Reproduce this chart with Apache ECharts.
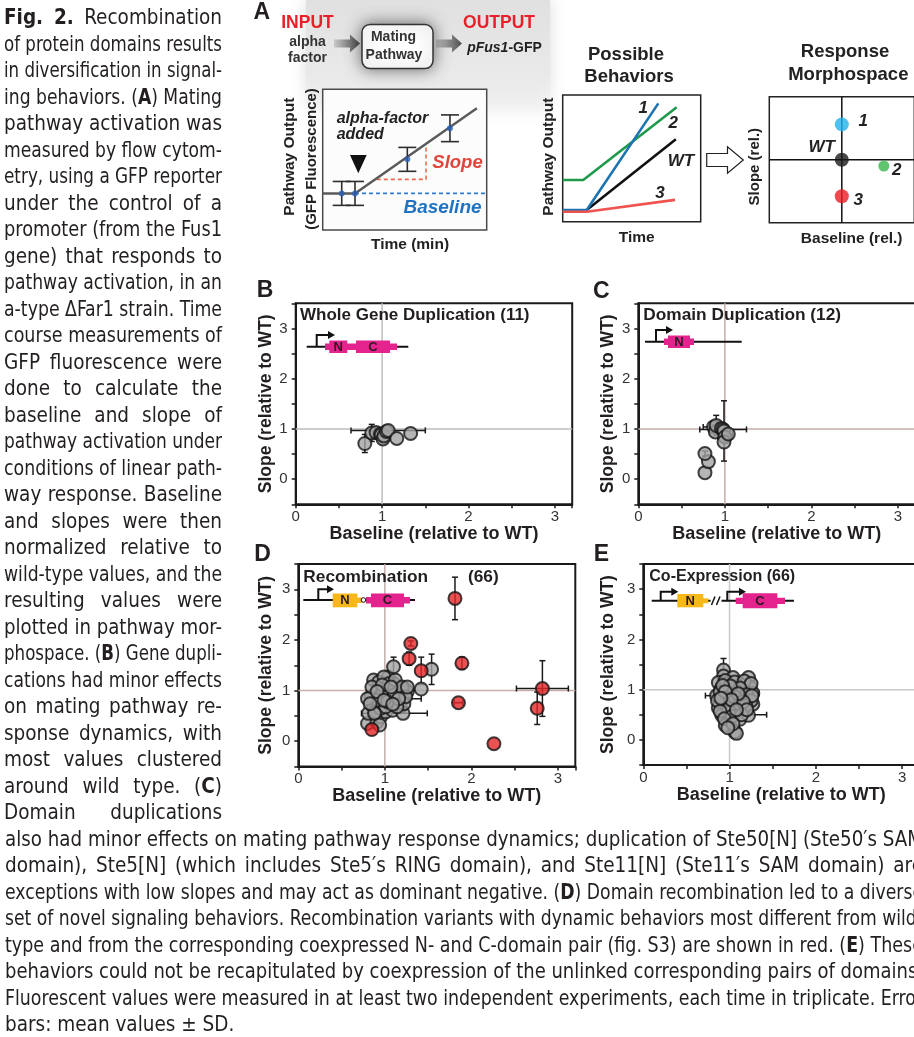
<!DOCTYPE html>
<html>
<head>
<meta charset="utf-8">
<title>Fig. 2 - Recombination of protein domains</title>
<script src="https://cdn.jsdelivr.net/npm/echarts@6.0.0/dist/echarts.min.js"></script>
<style>
html, body { margin: 0; padding: 0; background: #fff; overflow: hidden; }
#chart { position: absolute; left: 0; top: 0; width: 914px; height: 1037px; }
#caption { position: absolute; left: 0; top: 0; width: 914px; height: 1037px; pointer-events: none; }
.ln { position: absolute; white-space: nowrap; font-family: "Liberation Sans Narrow", "DejaVu Sans Condensed", "Liberation Sans", sans-serif;
      font-size: 20.5px; line-height: 24px; color: #231f20; transform-origin: 0 50%; }
.ln b { font-weight: bold; }
</style>
</head>
<body>
<div id="chart"></div>
<div id="caption"></div>
<script>
// caption text, line by line as in the page
var sideCaption = [
	'<b>Fig. 2.</b> Recombination',
	'of protein domains results',
	'in diversification in signal-',
	'ing behaviors. (<b>A</b>) Mating',
	'pathway activation was',
	'measured by flow cytom-',
	'etry, using a GFP reporter',
	'under the control of a',
	'promoter (from the Fus1',
	'gene) that responds to',
	'pathway activation, in an',
	'a-type \u0394Far1 strain. Time',
	'course measurements of',
	'GFP fluorescence were',
	'done to calculate the',
	'baseline and slope of',
	'pathway activation under',
	'conditions of linear path-',
	'way response. Baseline',
	'and slopes were then',
	'normalized relative to',
	'wild-type values, and the',
	'resulting values were',
	'plotted in pathway mor-',
	'phospace. (<b>B</b>) Gene dupli-',
	'cations had minor effects',
	'on mating pathway re-',
	'sponse dynamics, with',
	'most values clustered',
	'around wild type. (<b>C</b>)',
	'Domain duplications'
];
var bottomCaption = [
	'also had minor effects on mating pathway response dynamics; duplication of Ste50[N] (Ste50\u2032s SAM',
	'domain), Ste5[N] (which includes Ste5\u2032s RING domain), and Ste11[N] (Ste11\u2032s SAM domain) are',
	'exceptions with low slopes and may act as dominant negative. (<b>D</b>) Domain recombination led to a diverse',
	'set of novel signaling behaviors. Recombination variants with dynamic behaviors most different from wild-',
	'type and from the corresponding coexpressed N- and C-domain pair (fig. S3) are shown in red. (<b>E</b>) These',
	'behaviors could not be recapitulated by coexpression of the unlinked corresponding pairs of domains.',
	'Fluorescent values were measured in at least two independent experiments, each time in triplicate. Error',
	'bars: mean values \u00b1 SD.'
];

// panel A, schematic time course (arbitrary units 0-10)
var tcLine = [[0, 2.6], [1.97, 2.6], [9.4, 8.65]];
var tcBaseline = [[1.97, 2.6], [9.9, 2.6]];
var tcSlope = [[3.3, 3.6], [6.3, 3.6], [6.3, 5.9]];
var tcPoints = [[1.16, 2.6, 0.85], [1.97, 2.6, 0.85], [5.16, 5.02, 0.85], [7.76, 7.23, 0.95]]; // x, y, sd

// panel A, possible behaviors (arbitrary units 0-10)
var beh1 = [[0, 0.92], [1.74, 0.92], [6.93, 9.34]];
var beh2 = [[0, 3.29], [1.49, 3.29], [8.26, 9.03]];
var behWT = [[1.74, 0.92], [8.2, 6.5]];
var beh3 = [[0, 0.79], [1.74, 0.79], [8.14, 1.72]];

// panel A, response morphospace
var morphNames = ['1', 'WT', '2', '3'];
var morphBaseline = [5, 5, 7.9, 5];
var morphSlope = [7.8, 5, 4.5, 2.1];
var morphCenter = 5;

// B-E: [baseline, slope, baseline sd, slope sd], relative to WT
var dupPoints = [
	[0.80, 0.71, 0, 0.18], [0.88, 0.92, 0, 0.17], [0.93, 0.93, 0, 0], [0.98, 0.90, 0, 0],
	[0.99, 0.88, 0, 0], [1.01, 0.80, 0, 0], [1.02, 0.86, 0, 0], [1.05, 0.95, 0, 0],
	[1.07, 0.97, 0.43, 0], [1.17, 0.81, 0, 0], [1.33, 0.91, 0, 0]
];
var domDupPoints = [
	[0.77, 0.13, 0, 0], [0.81, 0.35, 0, 0], [0.77, 0.51, 0, 0.05], [0.87, 1.04, 0.12, 0.05],
	[0.89, 0.94, 0, 0], [0.90, 1.07, 0, 0.2], [0.96, 1.01, 0, 0], [0.98, 0.99, 0.27, 0],
	[0.99, 0.96, 0, 0.6], [1.00, 0.84, 0.08, 0], [0.99, 0.74, 0, 0], [1.04, 0.90, 0.05, 0.08]
];
var recombGray = [
	[0.80, 0.35, 0, 0], [0.91, 0.38, 0, 0], [0.95, 0.48, 0, 0], [0.81, 0.55, 0.08, 0],
	[0.87, 0.68, 0, 0], [0.95, 0.74, 0, 0], [0.84, 0.88, 0, 0], [0.93, 0.86, 0, 0],
	[0.99, 0.88, 0, 0], [1.07, 0.74, 0, 0], [1.14, 0.81, 0, 0], [1.20, 0.88, 0, 0],
	[1.05, 0.94, 0, 0], [0.97, 1.04, 0, 0], [0.87, 1.21, 0, 0], [1.04, 1.27, 0, 0.1],
	[1.11, 1.13, 0, 0], [1.22, 1.04, 0, 0.1], [1.03, 1.11, 0, 0], [0.93, 1.17, 0, 0],
	[1.16, 0.98, 0, 0], [1.07, 0.88, 0, 0], [0.85, 1.07, 0, 0], [0.97, 0.94, 0, 0],
	[1.01, 0.58, 0, 0], [1.09, 0.61, 0, 0], [1.18, 0.68, 0, 0.12], [1.21, 0.55, 0.28, 0],
	[0.89, 0.58, 0, 0], [0.95, 0.65, 0, 0], [1.11, 0.94, 0, 0], [1.26, 0.98, 0, 0],
	[1.22, 0.74, 0, 0], [1.14, 0.68, 0, 0], [0.91, 0.81, 0, 0], [1.01, 0.68, 0, 0],
	[0.80, 0.84, 0, 0], [0.99, 1.27, 0, 0], [1.05, 1.14, 0, 0], [1.12, 1.21, 0, 0],
	[1.20, 1.07, 0, 0], [1.24, 0.88, 0, 0], [0.88, 0.55, 0, 0], [0.94, 0.32, 0, 0],
	[1.03, 0.78, 0, 0], [1.10, 1.47, 0, 0.19], [1.42, 1.03, 0, 0], [1.54, 1.42, 0, 0.3],
	[0.97, 1.11, 0, 0], [1.07, 1.07, 0, 0], [1.16, 0.84, 0.26, 0], [0.83, 0.74, 0, 0],
	[0.91, 0.98, 0, 0], [1.26, 1.07, 0, 0], [0.99, 0.81, 0, 0], [1.09, 0.73, 0, 0]
];
var recombRed = [
	[0.85, 0.23, 0, 0], [1.28, 1.63, 0, 0.13], [1.30, 1.93, 0, 0.05], [1.42, 1.39, 0, 0.27],
	[1.81, 2.82, 0, 0.42], [1.85, 0.76, 0.05, 0], [1.89, 1.54, 0, 0.12], [2.26, -0.05, 0, 0],
	[2.76, 0.65, 0, 0.32], [2.82, 1.04, 0.3, 0.55]
];
var coexpPoints = [
	[0.93, 1.39, 0, 0.23], [0.93, 1.27, 0, 0], [1.04, 1.24, 0, 0], [1.22, 1.24, 0, 0],
	[0.87, 1.14, 0, 0], [0.97, 1.11, 0, 0], [1.13, 1.10, 0, 0], [1.24, 1.05, 0, 0],
	[0.90, 1.01, 0, 0], [0.99, 1.00, 0, 0], [1.08, 0.98, 0, 0], [1.18, 0.97, 0, 0],
	[1.27, 0.93, 0.07, 0], [0.85, 0.88, 0.13, 0], [1.03, 0.92, 0, 0], [0.93, 0.85, 0, 0],
	[1.14, 0.85, 0, 0], [1.22, 0.82, 0, 0], [0.89, 0.72, 0, 0], [1.01, 0.73, 0, 0],
	[1.10, 0.80, 0, 0], [0.93, 0.65, 0.1, 0], [1.04, 0.65, 0, 0], [1.15, 0.62, 0, 0],
	[1.27, 0.71, 0, 0], [0.87, 0.64, 0, 0], [0.97, 0.55, 0, 0], [1.08, 0.52, 0, 0],
	[1.16, 0.59, 0, 0], [0.91, 0.49, 0, 0], [1.00, 0.39, 0, 0], [1.12, 0.41, 0, 0],
	[1.22, 0.49, 0, 0], [0.95, 0.29, 0, 0], [1.06, 0.16, 0, 0], [1.08, 0.13, 0, 0],
	[0.95, 1.18, 0, 0], [1.06, 1.15, 0, 0], [1.17, 1.17, 0, 0], [1.25, 1.12, 0, 0],
	[0.89, 0.95, 0, 0], [1.12, 1.03, 0, 0], [1.20, 0.90, 0, 0], [0.97, 0.80, 0, 0],
	[1.06, 0.86, 0, 0], [1.25, 0.78, 0, 0], [0.86, 0.78, 0, 0], [0.99, 0.62, 0, 0],
	[1.12, 0.70, 0, 0], [1.19, 0.68, 0, 0], [0.89, 0.57, 0, 0], [1.03, 0.47, 0, 0],
	[1.14, 0.50, 0.29, 0], [0.94, 0.42, 0, 0], [1.04, 0.32, 0, 0], [0.98, 0.24, 0, 0],
	[1.26, 0.88, 0, 0], [1.01, 1.07, 0, 0], [0.92, 1.08, 0, 0], [1.16, 0.76, 0, 0],
	[0.95, 0.96, 0, 0], [1.10, 0.92, 0, 0], [1.02, 0.80, 0, 0], [1.20, 0.60, 0, 0],
	[0.90, 0.83, 0, 0], [1.08, 0.60, 0, 0]
];
var tickLabels = [0, 1, 2, 3];
var wtLevel = 1;

var F = '"Liberation Sans", Arial, Helvetica, sans-serif';
var PINK = '#e4238e', YELLOW = '#f8b81a', GRAYDOT = '#a3a3a3', REDDOT = '#e42528';

// caption as html text, each line justified to its column
function fitLine(el, width, justify) {
	var w = el.getBoundingClientRect().width;
	var spaces = (el.textContent.match(/ /g) || []).length;
	if (w > width) {
		el.style.transform = 'scaleX(' + (width / w) + ')';
	} else if (justify && spaces) {
		el.style.wordSpacing = ((width - w) / spaces) + 'px';
	}
}
function placeCaption() {
	var box = document.getElementById('caption');
	var lines = [];
	sideCaption.forEach(function (t) { lines.push({ t: t, x: 4, w: 218, j: true }); });
	bottomCaption.forEach(function (t, i) { lines.push({ t: t, x: 5, w: 918, j: i < bottomCaption.length - 1 }); });
	lines.forEach(function (l, i) {
		var d = document.createElement('div');
		d.className = 'ln';
		d.innerHTML = l.t;
		d.style.left = l.x + 'px';
		d.style.top = (17 + i * 26.5 - 12) + 'px';
		box.appendChild(d);
		fitLine(d, l.w, l.j);
	});
}

function T(x, y, text, size, o) {
	o = o || {};
	return {
		type: 'text', x: x, y: y, rotation: o.rot || 0, z: o.z || 60, silent: true,
		style: {
			text: text, fill: o.color || '#231f20', fontSize: size, fontWeight: o.weight || 'bold',
			fontStyle: o.italic ? 'italic' : 'normal', fontFamily: F,
			align: o.align || 'center', verticalAlign: 'middle', rich: o.rich
		}
	};
}
function promoter(x, y, top, end) {
	return [
		{ type: 'polyline', z: 60, shape: { points: [[x, y], [x, top], [end - 4, top]] }, style: { stroke: '#111', lineWidth: 2, fill: null } },
		{ type: 'polygon', z: 60, shape: { points: [[end - 7, top - 4], [end, top], [end - 7, top + 4]] }, style: { fill: '#111' } }
	];
}
function bar(x1, x2, y1, y2, color) {
	return { type: 'rect', z: 61, shape: { x: x1, y: y1, width: x2 - x1, height: y2 - y1 }, style: { fill: color } };
}
function hline(x1, x2, y) {
	return { type: 'line', z: 59, shape: { x1: x1, y1: y, x2: x2, y2: y }, style: { stroke: '#111', lineWidth: 2 } };
}
function domainLabel(x, y, text) {
	return T(x, y, text, 13, { z: 66, color: '#2b1a22' });
}
function flowArrow(x0, x1, y) {
	return {
		type: 'polygon', z: 55,
		shape: { points: [[x0, y - 4], [x1 - 10, y - 4], [x1 - 10, y - 9], [x1, y], [x1 - 10, y + 9], [x1 - 10, y + 4], [x0, y + 4]] },
		style: { fill: new echarts.graphic.LinearGradient(0, 0, 1, 0, [{ offset: 0, color: '#c9c9c9' }, { offset: 1, color: '#4d4d4d' }]) }
	};
}

// custom renderer for error bars: value = [x, y, xsd, ysd]
function errorBars(cap, color, width) {
	return function (params, api) {
		var x = api.value(0), y = api.value(1), ex = api.value(2), ey = api.value(3);
		var st = { stroke: color, lineWidth: width };
		var kids = [];
		if (ex > 0) {
			var a = api.coord([x - ex, y]), b = api.coord([x + ex, y]);
			kids.push({ type: 'line', shape: { x1: a[0], y1: a[1], x2: b[0], y2: b[1] }, style: st });
			kids.push({ type: 'line', shape: { x1: a[0], y1: a[1] - cap, x2: a[0], y2: a[1] + cap }, style: st });
			kids.push({ type: 'line', shape: { x1: b[0], y1: b[1] - cap, x2: b[0], y2: b[1] + cap }, style: st });
		}
		if (ey > 0) {
			var c = api.coord([x, y - ey]), d = api.coord([x, y + ey]);
			kids.push({ type: 'line', shape: { x1: c[0], y1: c[1], x2: d[0], y2: d[1] }, style: st });
			kids.push({ type: 'line', shape: { x1: c[0] - cap, y1: c[1], x2: c[0] + cap, y2: c[1] }, style: st });
			kids.push({ type: 'line', shape: { x1: d[0] - cap, y1: d[1], x2: d[0] + cap, y2: d[1] }, style: st });
		}
		return { type: 'group', children: kids };
	};
}

var chart = echarts.init(document.getElementById('chart'));

var grids = [
	{ left: 322.7, top: 89.3, width: 164, height: 140.7, show: true, borderColor: '#4a4a4a', borderWidth: 1.5, backgroundColor: '#fcfcfc' },
	{ left: 562.7, top: 95, width: 138, height: 126.7, show: true, borderColor: '#222', borderWidth: 1.5, backgroundColor: '#fff' },
	{ left: 769.3, top: 96.7, width: 145, height: 126, show: true, borderColor: '#222', borderWidth: 1.5, backgroundColor: '#fff' },
	{ left: 295.7, top: 303.3, width: 276.5, height: 201 },
	{ left: 638.3, top: 303.3, width: 277, height: 201 },
	{ left: 298.3, top: 564, width: 277, height: 202.5 },
	{ left: 643.3, top: 564, width: 276, height: 201 }
];
for (var g = 3; g < 7; g++) {
	grids[g].show = true; grids[g].borderColor = '#1a1a1a'; grids[g].borderWidth = 2;
}
grids.forEach(function (gr) { gr.outerBoundsMode = 'none'; gr.containLabel = false; });

var xAxes = [], yAxes = [];
for (var s = 0; s < 3; s++) {
	xAxes.push({ gridIndex: s, type: 'value', min: 0, max: 10, show: false, axisLine: { onZero: false } });
	yAxes.push({ gridIndex: s, type: 'value', min: 0, max: 10, show: false, axisLine: { onZero: false } });
}
function intLabel(v) {
	return tickLabels.indexOf(Math.round(v * 100) / 100) >= 0 ? String(Math.round(v)) : '';
}
var nameGaps = [[19, 20.5], [19, 21.5], [19.5, 23], [20.5, 26.5]];
nameGaps.forEach(function (ng, k) {
	var common = {
		gridIndex: k + 3, type: 'value', interval: 0.5, nameLocation: 'middle',
		axisLine: { onZero: false, lineStyle: { color: '#1a1a1a', width: 2 } },
		axisTick: { length: 4, lineStyle: { color: '#1a1a1a', width: 1.5 } },
		splitLine: { show: false },
		nameTextStyle: { fontSize: 18, fontWeight: 'bold', color: '#231f20', fontFamily: F }
	};
	xAxes.push(Object.assign({}, common, {
		min: 0, max: 3.2, name: 'Baseline (relative to WT)', nameGap: ng[0],
		axisLabel: { formatter: intLabel, fontSize: 15, color: '#333', margin: 5, fontFamily: F }
	}));
	yAxes.push(Object.assign({}, common, {
		min: -0.5, max: 3.5, name: 'Slope (relative to WT)', nameGap: ng[1],
		nameTextStyle: { fontSize: 17.5, fontWeight: 'bold', color: '#231f20', fontFamily: F },
		axisLabel: { formatter: intLabel, fontSize: 15, color: '#333', margin: 8, fontFamily: F }
	}));
});

var series = [];
function lineSeries(gi, data, color, width, dash, z) {
	return {
		type: 'line', xAxisIndex: gi, yAxisIndex: gi, data: data, symbol: 'none', silent: true, z: z || 2,
		lineStyle: { color: color, width: width, type: dash || 'solid' }
	};
}
// A: time course schematic
series.push(lineSeries(0, tcBaseline, '#2f7fd6', 1.6, [4, 3]));
series.push(lineSeries(0, tcSlope, '#ec6a4c', 1.6, [4, 3]));
series.push(lineSeries(0, tcLine, '#5a5a5a', 2.5, null, 3));
series.push({
	type: 'custom', xAxisIndex: 0, yAxisIndex: 0, z: 4, silent: true, encode: { x: 0, y: 1 },
	renderItem: errorBars(9, '#2d2d2d', 1.6),
	data: tcPoints.map(function (p) { return [p[0], p[1], 0, p[2]]; })
});
series.push({
	type: 'scatter', xAxisIndex: 0, yAxisIndex: 0, z: 5, symbolSize: 6, silent: true,
	itemStyle: { color: '#2b5fb8' }, data: tcPoints.map(function (p) { return [p[0], p[1]]; })
});
// A: possible behaviors
series.push(lineSeries(1, beh2, '#1f9a4c', 2.6));
series.push(lineSeries(1, behWT, '#111', 2.6));
series.push(lineSeries(1, beh1, '#1c75b0', 2.6, null, 3));
series.push(lineSeries(1, beh3, '#ef5350', 2.6, null, 3));
// A: morphospace
series.push(lineSeries(2, [[morphCenter, 0], [morphCenter, 10]], '#111', 1.5));
series.push(lineSeries(2, [[0, morphCenter], [10, morphCenter]], '#111', 1.5));
var morphColors = ['#1fb3ec', '#1a1a1a', '#39b54a', '#ed1c24'];
var morphSizes = [14, 14, 11, 14];
series.push({
	type: 'scatter', xAxisIndex: 2, yAxisIndex: 2, z: 5, silent: true,
	data: morphNames.map(function (n, i) {
		return { name: n, value: [morphBaseline[i], morphSlope[i]], symbolSize: morphSizes[i], itemStyle: { color: morphColors[i] } };
	})
});
// B-E
var panels = [
	{ gi: 3, pts: dupPoints, ref: '#bdbdbd' },
	{ gi: 4, pts: domDupPoints, ref: '#c6aeaa' },
	{ gi: 5, pts: recombGray, ref: '#c6aeaa', red: recombRed },
	{ gi: 6, pts: coexpPoints, ref: '#c9c9c9' }
];
panels.forEach(function (p) {
	series.push(lineSeries(p.gi, [[wtLevel, -0.5], [wtLevel, 3.5]], p.ref, 1.5, null, 1));
	series.push(lineSeries(p.gi, [[0, wtLevel], [3.2, wtLevel]], p.ref, 1.5, null, 1));
	var all = p.red ? p.pts.concat(p.red) : p.pts;
	series.push({
		type: 'custom', xAxisIndex: p.gi, yAxisIndex: p.gi, z: 3, silent: true, encode: { x: 0, y: 1 },
		renderItem: errorBars(3, '#1a1a1a', 1.5), data: all
	});
	series.push({
		type: 'scatter', xAxisIndex: p.gi, yAxisIndex: p.gi, z: 4, silent: true, symbolSize: 13,
		itemStyle: { color: GRAYDOT, borderColor: '#151515', borderWidth: 2 },
		data: p.pts.map(function (d) { return [d[0], d[1]]; })
	});
	if (p.red) {
		series.push({
			type: 'scatter', xAxisIndex: p.gi, yAxisIndex: p.gi, z: 5, silent: true, symbolSize: 13,
			itemStyle: { color: REDDOT, borderColor: '#151515', borderWidth: 2 },
			data: p.red.map(function (d) { return [d[0], d[1]]; })
		});
	}
});

// schematic drawings and labels
var gfx = [];
gfx.push({
	type: 'rect', z: -5, silent: true, shape: { x: 306, y: 0, width: 244, height: 112 },
	style: {
		fill: new echarts.graphic.LinearGradient(0, 0, 0, 1, [
			{ offset: 0, color: '#e0e0e0' }, { offset: 0.65, color: '#e9e9e9' }, { offset: 1, color: 'rgba(245,245,245,0.4)' }]),
		shadowBlur: 14, shadowColor: 'rgba(215,215,215,0.9)'
	}
});
gfx.push({
	type: 'rect', z: 56, shape: { x: 362, y: 24.5, width: 71, height: 44, r: 8 },
	style: { fill: '#fff', stroke: '#333', lineWidth: 1.5, shadowBlur: 16, shadowColor: 'rgba(0,0,0,0.55)' }
});
gfx.push(flowArrow(334, 360, 43.5), flowArrow(436, 462, 43.5));
gfx.push(T(261.7, 12.5, 'A', 23));
gfx.push(T(307.5, 22.7, 'INPUT', 17.5, { color: '#e8202a' }));
gfx.push(T(307.5, 41.7, 'alpha', 14, { color: '#333' }));
gfx.push(T(307.5, 58.3, 'factor', 14, { color: '#333' }));
gfx.push(T(393.5, 36.7, 'Mating', 14, { color: '#333' }));
gfx.push(T(394, 55, 'Pathway', 14, { color: '#333' }));
gfx.push(T(499, 22.7, 'OUTPUT', 17.5, { color: '#e8202a' }));
gfx.push(T(504.5, 48.3, '{i|pFus1}{n|-GFP}', 14, { rich: {
	i: { fontStyle: 'italic', fontWeight: 'bold', fontSize: 14, fontFamily: F, fill: '#222' },
	n: { fontWeight: 'bold', fontSize: 14, fontFamily: F, fill: '#222' } } }));
gfx.push(T(290, 156.7, 'Pathway Output', 15.5, { rot: Math.PI / 2, color: '#222' }));
gfx.push(T(311.5, 159, '(GFP Fluorescence)', 15, { rot: Math.PI / 2, color: '#222' }));
gfx.push(T(410, 245, 'Time (min)', 15.5, { color: '#222' }));
gfx.push(T(336.7, 118.3, 'alpha-factor', 16, { italic: true, align: 'left', color: '#222' }));
gfx.push(T(336.7, 135, 'added', 16, { italic: true, align: 'left', color: '#222' }));
gfx.push({ type: 'polygon', z: 60, shape: { points: [[350, 155], [366.7, 155], [358.3, 173.3]] }, style: { fill: '#111' } });
gfx.push(T(457.5, 163.3, 'Slope', 18.5, { italic: true, color: '#e0473a' }));
gfx.push(T(442.5, 207.3, 'Baseline', 19, { italic: true, color: '#1f73c0' }));

gfx.push(T(626, 55, 'Possible', 18.5, { color: '#222' }));
gfx.push(T(629, 76.7, 'Behaviors', 18.5, { color: '#222' }));
gfx.push(T(548.3, 156.7, 'Pathway Output', 15.5, { rot: Math.PI / 2, color: '#222' }));
gfx.push(T(636.7, 237.3, 'Time', 15.5, { color: '#222' }));
gfx.push(T(643.3, 108.3, '1', 17, { italic: true, color: '#222' }));
gfx.push(T(673.3, 123.3, '2', 17, { italic: true, color: '#222' }));
gfx.push(T(681, 161.7, 'WT', 17, { italic: true, color: '#222' }));
gfx.push(T(660, 193.3, '3', 17, { italic: true, color: '#222' }));
gfx.push({
	type: 'polygon', z: 60,
	shape: { points: [[706.7, 153.5], [727.5, 153.5], [727.5, 146.7], [743.3, 160], [727.5, 173.3], [727.5, 166.5], [706.7, 166.5]] },
	style: { fill: '#fff', stroke: '#222', lineWidth: 1.2 }
});
gfx.push(T(845, 51.7, 'Response', 18.5, { color: '#222' }));
gfx.push(T(848.3, 75, 'Morphospace', 18.5, { color: '#222' }));
gfx.push(T(755, 166.7, 'Slope (rel.)', 15, { rot: Math.PI / 2, color: '#222' }));
gfx.push(T(851.7, 238.3, 'Baseline (rel.)', 15.5, { color: '#222' }));
gfx.push(T(863.3, 121.7, '1', 17, { italic: true, color: '#222' }));
gfx.push(T(821.7, 147.3, 'WT', 17, { italic: true, color: '#222' }));
gfx.push(T(896.7, 170, '2', 17, { italic: true, color: '#222' }));
gfx.push(T(858.3, 200.7, '3', 17, { italic: true, color: '#222' }));

// panel letters and titles
gfx.push(T(265, 291, 'B', 23), T(601.3, 291.7, 'C', 23), T(262.5, 555, 'D', 23), T(601.3, 555, 'E', 23));
gfx.push(T(300, 315, 'Whole Gene Duplication (11)', 17, { align: 'left' }));
gfx.push(T(643.3, 315, 'Domain Duplication (12)', 17.3, { align: 'left' }));
gfx.push(T(303.3, 577.3, 'Recombination', 17.3, { align: 'left' }));
gfx.push(T(468, 577.3, '(66)', 17.3, { align: 'left' }));
gfx.push(T(649.3, 577, 'Co-Expression (66)', 16, { align: 'left' }));

// gene constructs
gfx.push(hline(306.7, 408.3, 346.7));
gfx = gfx.concat(promoter(316.7, 346.7, 335, 335));
gfx.push(bar(325, 397, 343.5, 350, PINK), bar(329.3, 347.3, 340.5, 353, PINK), bar(356, 390, 340.5, 353, PINK));
gfx.push(domainLabel(338.3, 347.3, 'N'), domainLabel(373, 347.3, 'C'));

gfx.push(hline(645, 741.7, 341.7));
gfx = gfx.concat(promoter(656, 341.7, 330, 673));
gfx.push(bar(664, 694, 338.5, 345, PINK), bar(668, 690, 335.5, 348, PINK));
gfx.push(domainLabel(679, 342.2, 'N'));

gfx.push(hline(303.3, 415, 600));
gfx = gfx.concat(promoter(318.3, 600, 589.3, 334));
gfx.push(bar(355, 362, 597.5, 603, YELLOW), bar(332.7, 357.3, 593.5, 607.3, YELLOW));
gfx.push(bar(366, 410, 597, 603.5, PINK), bar(371, 404, 593.5, 607.3, PINK));
gfx.push({ type: 'circle', z: 62, shape: { cx: 363.5, cy: 600, r: 2.3 }, style: { fill: '#fff', stroke: '#111', lineWidth: 1 } });
gfx.push(domainLabel(345, 600.7, 'N'), domainLabel(387.5, 600.7, 'C'));

gfx.push(hline(651.7, 794, 600.7));
gfx = gfx.concat(promoter(660.7, 600.7, 591.7, 678.3));
gfx = gfx.concat(promoter(727.3, 600.7, 591.7, 746));
gfx.push(bar(703, 708.3, 598.3, 603.3, YELLOW), bar(677.3, 703.3, 594, 607.3, YELLOW));
gfx.push(bar(735.7, 785, 597.7, 604, PINK), bar(742.7, 777.3, 593.3, 608.3, PINK));
gfx.push({ type: 'rect', z: 60, shape: { x: 710.5, y: 596, width: 11, height: 9.5 }, style: { fill: '#fff' } });
gfx.push({ type: 'line', z: 61, shape: { x1: 711.5, y1: 605, x2: 715, y2: 596.5 }, style: { stroke: '#111', lineWidth: 1.5 } });
gfx.push({ type: 'line', z: 61, shape: { x1: 716.5, y1: 605, x2: 720, y2: 596.5 }, style: { stroke: '#111', lineWidth: 1.5 } });
gfx.push(domainLabel(690.3, 601.2, 'N'), domainLabel(760, 601.2, 'C'));

chart.setOption({
	animation: false,
	backgroundColor: '#fff',
	grid: grids,
	xAxis: xAxes,
	yAxis: yAxes,
	series: series,
	graphic: { elements: gfx }
});

placeCaption();
</script>
</body>
</html>
